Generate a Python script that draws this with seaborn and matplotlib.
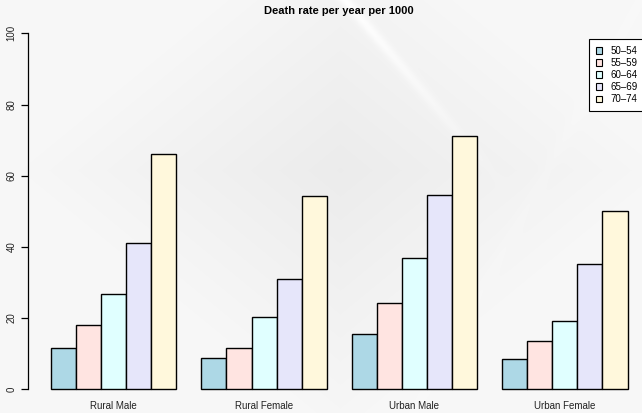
import numpy as np
import pandas as pd
import matplotlib
matplotlib.use("Agg")
import matplotlib.pyplot as plt
from matplotlib.patches import Patch
import seaborn as sns

# Death rates per 1000 per year (VADeaths)
groups = ["Rural Male", "Rural Female", "Urban Male", "Urban Female"]
ages = ["50–54", "55–59", "60–64", "65–69", "70–74"]
rural_male = [11.7, 18.1, 26.9, 41.0, 66.0]
rural_female = [8.7, 11.7, 20.3, 30.9, 54.3]
urban_male = [15.4, 24.3, 37.0, 54.6, 71.1]
urban_female = [8.4, 13.6, 19.3, 35.1, 50.0]
age_colors = ["lightblue", "mistyrose", "lightcyan", "lavender", "cornsilk"]
y_ticks = [0, 20, 40, 60, 80, 100]

rows = []
for g, vals in zip(groups, [rural_male, rural_female, urban_male, urban_female]):
    for a, v in zip(ages, vals):
        rows.append({"group": g, "age": a, "rate": v})
df = pd.DataFrame(rows)

sns.set_theme(style="white")
plt.rcParams["font.family"] = ["Liberation Sans", "DejaVu Sans"]
plt.rcParams["text.color"] = "black"
plt.rcParams["xtick.color"] = "black"
plt.rcParams["ytick.color"] = "black"

W, H = 642, 413
fig = plt.figure(figsize=(W / 100, H / 100), dpi=100)

# soft grey backdrop with a light diagonal sheen
bg_ax = fig.add_axes([0, 0, 1, 1], zorder=-10)
yy, xx = np.mgrid[0:H, 0:W]
dist = np.abs(xx - 340) / 330 + np.abs(yy - 170) / 270
base = 0.925 + 0.045 * np.clip(dist, 0, 1)
streak = np.exp(-((xx - 345 - (yy * 0.85)) ** 2) / (2 * 5.0 ** 2)) * np.clip(1 - yy / 190, 0, 1)
streak2 = np.exp(-((xx - 640 + (yy * 0.55)) ** 2) / (2 * 5.0 ** 2)) * 0.3
img = np.clip(base + 0.045 * streak + 0.015 * streak2, 0, 1)
bg_ax.imshow(np.dstack([img] * 3), aspect="auto", extent=[0, 1, 0, 1], origin="upper")
bg_ax.set_axis_off()

left_px, right_px = 27.9, 650.6
top_px, bot_px = 19.1, 403.5
ax = fig.add_axes([left_px / W, 1 - bot_px / H,
                   (right_px - left_px) / W, (bot_px - top_px) / H])
ax.patch.set_alpha(0)

sns.barplot(data=df, x="group", y="rate", hue="age", order=groups,
            hue_order=ages, palette=age_colors, width=5 / 6, dodge=True,
            saturation=1, edgecolor="black", linewidth=1.0, legend=False, ax=ax)

ax.set_xlim(-0.57, 3.57)
ax.set_ylim(-4, 104)
for s in ["top", "right", "bottom"]:
    ax.spines[s].set_visible(False)
ax.spines["left"].set_bounds(0, 100)
ax.spines["left"].set_color("black")
ax.spines["left"].set_linewidth(0.9)
ax.set_yticks(y_ticks)
ax.set_yticklabels([str(t) for t in y_ticks], rotation=90, va="center", fontsize=7)
ax.tick_params(axis="y", direction="out", length=5, width=0.9, color="black",
               left=True, pad=3, labelcolor="#222222")
ax.tick_params(axis="x", length=0, labelsize=7, pad=-2, labelcolor="#222222")
ax.set_xlabel("")
ax.set_ylabel("")

fig.text(339 / W, 1 - 11 / H, "Death rate per year per 1000",
         ha="center", va="center", fontsize=8, fontweight="bold", color="black")

handles = [Patch(facecolor=c, edgecolor="black", linewidth=0.8) for c in age_colors]
leg = fig.legend(handles, ages, loc="upper left",
                 bbox_to_anchor=(588.6 / W, 1 - 38.7 / H),
                 fontsize=7, frameon=True, fancybox=False,
                 handlelength=0.65, handleheight=0.65, handletextpad=0.9,
                 labelspacing=0.22, borderpad=0.72, borderaxespad=0)
leg.get_frame().set_edgecolor("black")
leg.get_frame().set_linewidth(0.8)
leg.get_frame().set_facecolor("white")
leg.get_frame().set_alpha(1)

fig.savefig("out.png", dpi=100)
